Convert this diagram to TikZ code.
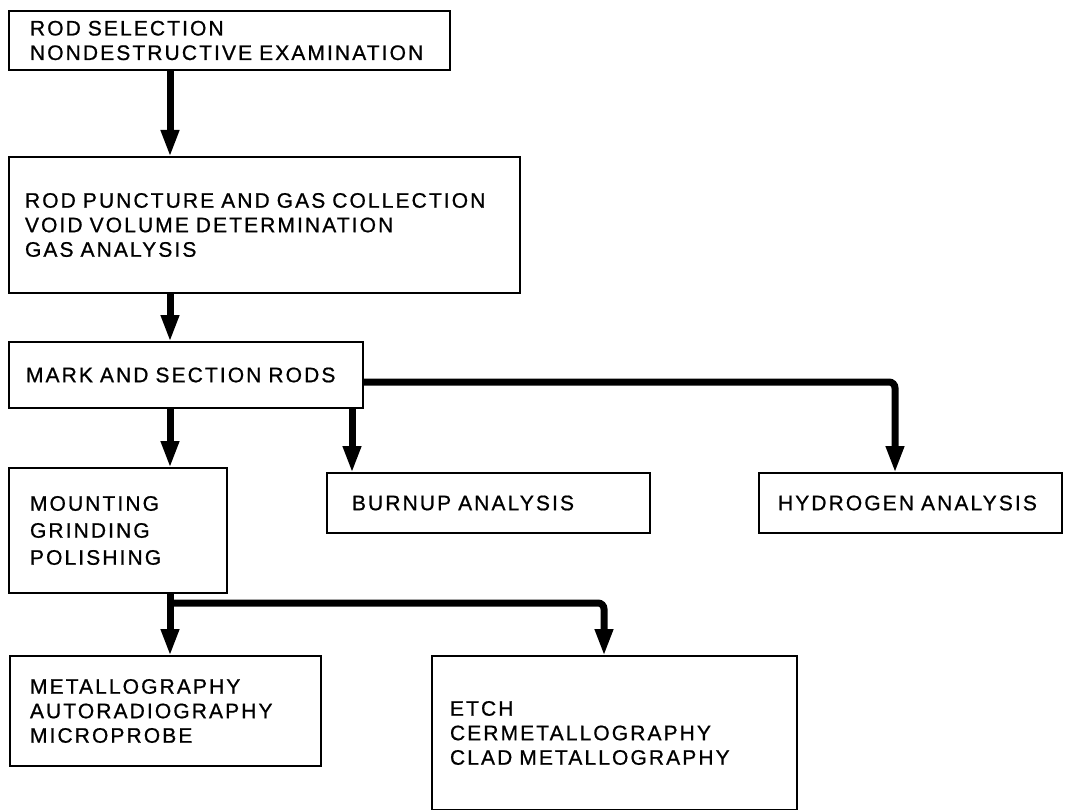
\documentclass[tikz,border=0pt]{standalone}
\usepackage{fontspec}
\setmainfont{Liberation Sans}[LetterSpace=10,FakeBold=0.8]
\usetikzlibrary{arrows.meta}
\begin{document}
\begin{tikzpicture}[x=1pt,y=-1pt,
  box/.style={draw, line width=2.6pt, align=left, anchor=north west, inner ysep=0pt, outer sep=0pt, font=\fontsize{21}{24.5}\selectfont},
  arr/.style={line width=7pt, -{Triangle[width=17pt,length=27pt]}}]
\useasboundingbox (0,0) rectangle (1078,810);

\node[box, inner xsep=21pt, text width=399pt, minimum height=59pt] (b1) at (9,11) {ROD SELECTION\\NONDESTRUCTIVE EXAMINATION};
\node[box, inner xsep=16pt, text width=479pt, minimum height=136pt] (b2) at (9,157) {ROD PUNCTURE AND GAS COLLECTION\\VOID VOLUME DETERMINATION\\GAS ANALYSIS};
\node[box, inner xsep=17pt, text width=320pt, minimum height=66pt] (b3) at (9,342) {MARK AND SECTION RODS};
\node[box, inner xsep=21pt, text width=176pt, minimum height=125pt, font=\fontsize{21}{27}\selectfont] (b4) at (9,468) {MOUNTING\\GRINDING\\POLISHING};
\node[box, inner xsep=25pt, text width=273pt, minimum height=60pt] (bu) at (327,473) {BURNUP ANALYSIS};
\node[box, inner xsep=19pt, text width=265pt, minimum height=60pt] (hy) at (759,473) {HYDROGEN ANALYSIS};
\node[box, inner xsep=20pt, text width=271pt, minimum height=110pt] (b7) at (10,656) {METALLOGRAPHY\\AUTORADIOGRAPHY\\MICROPROBE};
\node[box, inner xsep=18pt, text width=329pt, minimum height=154pt] (b8) at (432,656) {ETCH\\CERMETALLOGRAPHY\\CLAD METALLOGRAPHY};

\coordinate (ax) at (170,0);
\coordinate (bx) at (352,0);
\coordinate (hx) at (895,0);
\coordinate (ex) at (604,0);
\coordinate (hyl) at (0,382);
\coordinate (ml) at (0,603);

\draw[arr] (b1.south -| ax) -- (b2.north -| ax);
\draw[arr] (b2.south -| ax) -- (b3.north -| ax);
\draw[arr] (b3.south -| ax) -- (b4.north -| ax);
\draw[arr] (b3.south -| bx) -- (bu.north -| bx);
\draw[arr, rounded corners=6pt] (b3.east |- hyl) -- (hx |- hyl) -- (hx |- hy.north);
\draw[arr] (b4.south -| ax) -- (b7.north -| ax);
\draw[arr, rounded corners=6pt] (ax |- ml) -- (ex |- ml) -- (ex |- b8.north);
\end{tikzpicture}
\end{document}
